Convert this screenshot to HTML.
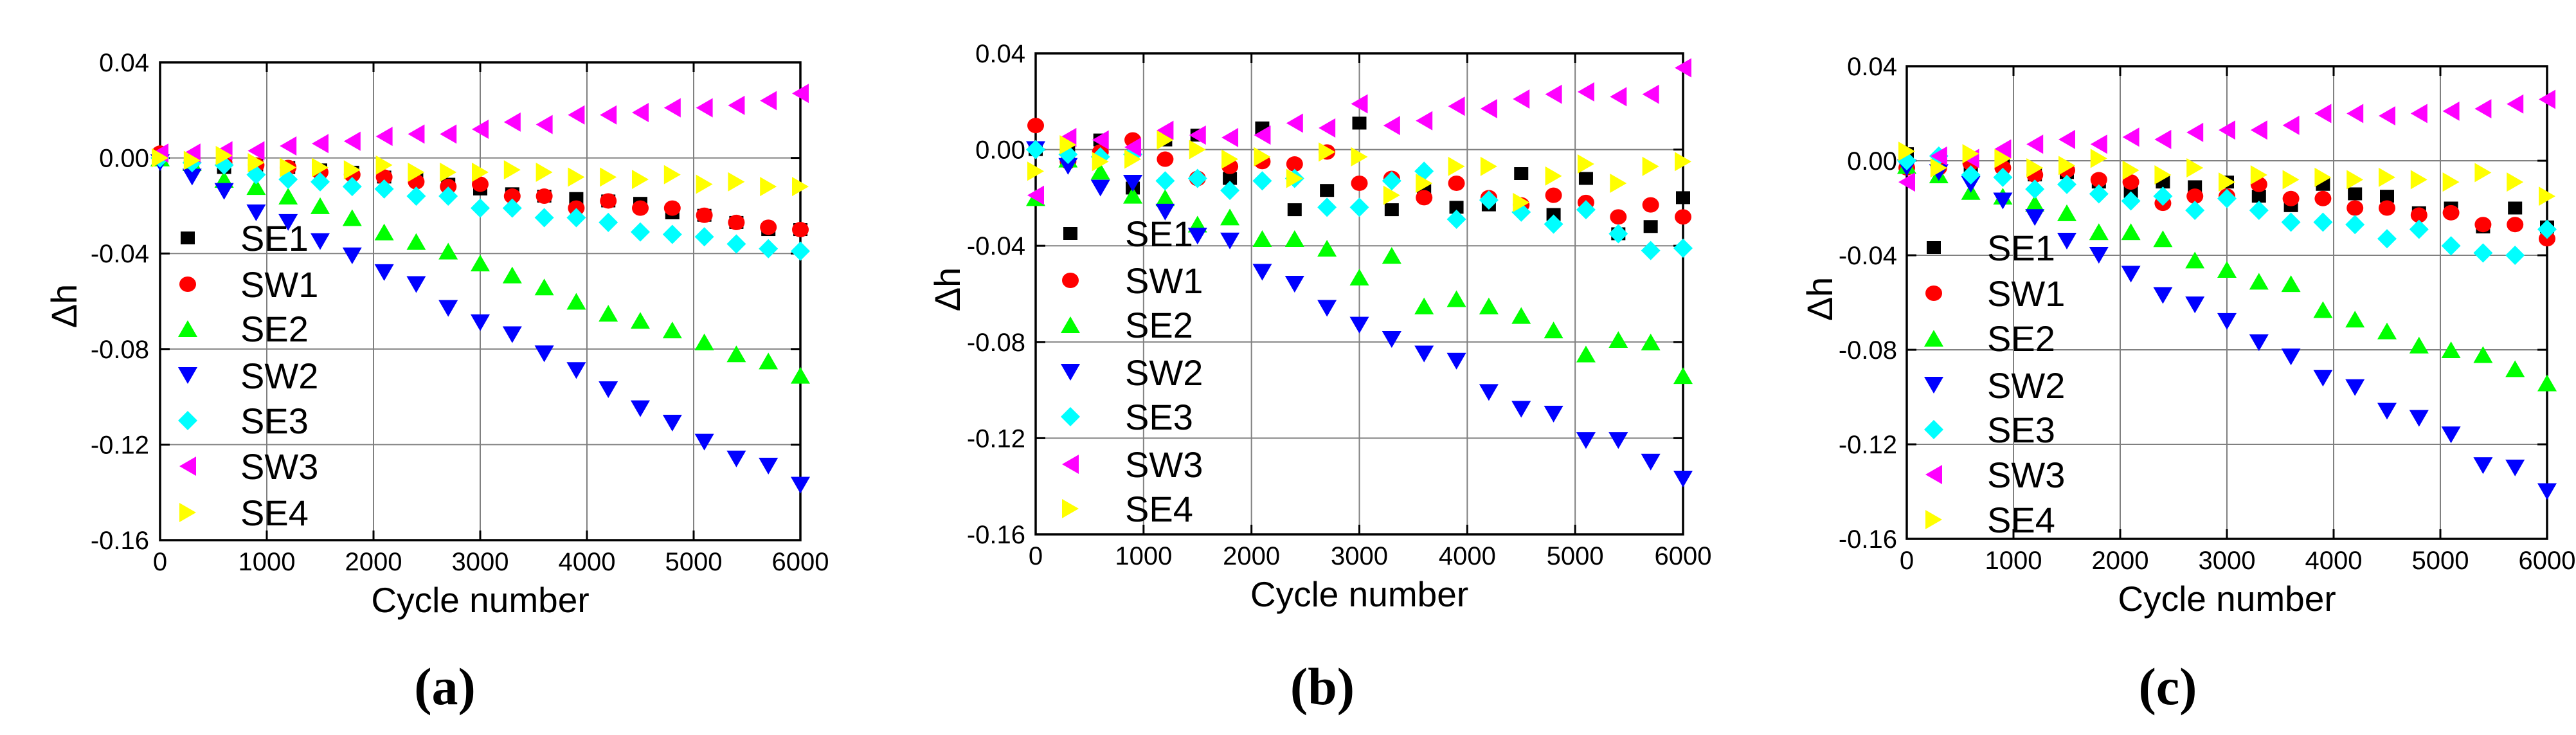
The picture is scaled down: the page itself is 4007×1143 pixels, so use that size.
<!DOCTYPE html>
<html><head><meta charset="utf-8"><style>
html,body{margin:0;padding:0;background:#fff;}
svg{display:block;}
text{font-family:"Liberation Sans",sans-serif;fill:#000;}
</style></head><body>
<svg id="fig" width="4007" height="1143" viewBox="0 0 4007 1143" xmlns="http://www.w3.org/2000/svg"></svg>
<script>
const xCycles=[0,300,600,900,1200,1500,1800,2100,2400,2700,3000,3300,3600,3900,4200,4500,4800,5100,5400,5700,6000];
const seriesNames=["SE1","SW1","SE2","SW2","SE3","SW3","SE4"];
const xTicks=[0,1000,2000,3000,4000,5000,6000];
const yTicks=[0.04,0.00,-0.04,-0.08,-0.12,-0.16];
const yTickLabels=["0.04","0.00","-0.04","-0.08","-0.12","-0.16"];
// panel (a)
const aSE1=[0,-0.001,-0.004,-0.003,-0.004,-0.005,-0.006,-0.008,-0.009,-0.011,-0.013,-0.015,-0.016,-0.017,-0.018,-0.019,-0.023,-0.024,-0.027,-0.030,-0.030];
const aSW1=[0.002,-0.001,-0.002,-0.003,-0.004,-0.006,-0.007,-0.008,-0.010,-0.012,-0.011,-0.016,-0.016,-0.021,-0.018,-0.021,-0.021,-0.024,-0.027,-0.029,-0.030];
const aSE2=[0,-0.002,-0.009,-0.012,-0.016,-0.020,-0.025,-0.031,-0.035,-0.039,-0.044,-0.049,-0.054,-0.060,-0.065,-0.068,-0.072,-0.077,-0.082,-0.085,-0.091];
const aSW2=[-0.002,-0.008,-0.014,-0.023,-0.027,-0.035,-0.041,-0.048,-0.053,-0.063,-0.069,-0.074,-0.082,-0.089,-0.097,-0.105,-0.111,-0.119,-0.126,-0.129,-0.137];
const aSE3=[0,-0.002,-0.003,-0.007,-0.009,-0.010,-0.012,-0.013,-0.016,-0.016,-0.021,-0.021,-0.025,-0.025,-0.027,-0.031,-0.032,-0.033,-0.036,-0.038,-0.039];
const aSW3=[0.002,0.002,0.003,0.003,0.005,0.006,0.007,0.009,0.010,0.010,0.012,0.015,0.014,0.018,0.018,0.019,0.021,0.021,0.022,0.024,0.027];
const aSE4=[0,-0.001,0.001,-0.002,-0.004,-0.004,-0.005,-0.003,-0.006,-0.006,-0.006,-0.005,-0.006,-0.008,-0.008,-0.009,-0.007,-0.011,-0.010,-0.012,-0.012];
// panel (b)
const bSE1=[0,0.000,0.004,-0.016,0.004,0.006,-0.012,0.009,-0.025,-0.017,0.011,-0.025,-0.017,-0.024,-0.023,-0.010,-0.027,-0.012,-0.035,-0.032,-0.020];
const bSW1=[0.010,-0.005,-0.001,0.004,-0.004,-0.012,-0.007,-0.005,-0.006,-0.001,-0.014,-0.012,-0.020,-0.014,-0.020,-0.023,-0.019,-0.022,-0.028,-0.023,-0.028];
const bSE2=[-0.020,-0.004,-0.009,-0.019,-0.020,-0.031,-0.028,-0.037,-0.037,-0.041,-0.053,-0.044,-0.065,-0.062,-0.065,-0.069,-0.075,-0.085,-0.079,-0.080,-0.094];
const bSW2=[0,-0.007,-0.016,-0.014,-0.026,-0.036,-0.038,-0.051,-0.056,-0.066,-0.073,-0.079,-0.085,-0.088,-0.101,-0.108,-0.110,-0.121,-0.121,-0.130,-0.137];
const bSE3=[0,-0.002,-0.003,-0.002,-0.013,-0.012,-0.017,-0.013,-0.012,-0.024,-0.024,-0.013,-0.009,-0.029,-0.021,-0.026,-0.031,-0.025,-0.035,-0.042,-0.041];
const bSW3=[-0.019,0.005,0.004,0.001,0.008,0.006,0.005,0.006,0.011,0.009,0.019,0.010,0.012,0.018,0.017,0.021,0.023,0.024,0.022,0.023,0.034];
const bSE4=[-0.009,0.002,-0.005,-0.004,0.004,0.000,-0.004,-0.003,-0.012,-0.001,-0.003,-0.019,-0.014,-0.007,-0.007,-0.022,-0.011,-0.006,-0.014,-0.007,-0.005];
// panel (c)
const cSE1=[0.003,-0.002,-0.002,-0.002,-0.006,-0.005,-0.009,-0.013,-0.009,-0.011,-0.009,-0.015,-0.019,-0.010,-0.014,-0.015,-0.022,-0.020,-0.028,-0.020,-0.028];
const cSW1=[-0.003,-0.003,-0.001,-0.003,-0.006,-0.004,-0.008,-0.009,-0.018,-0.015,-0.015,-0.010,-0.016,-0.016,-0.020,-0.020,-0.023,-0.022,-0.027,-0.027,-0.033];
const cSE2=[-0.002,-0.006,-0.013,-0.015,-0.018,-0.022,-0.030,-0.030,-0.033,-0.042,-0.046,-0.051,-0.052,-0.063,-0.067,-0.072,-0.078,-0.080,-0.082,-0.088,-0.094];
const cSW2=[-0.003,-0.005,-0.010,-0.017,-0.024,-0.034,-0.040,-0.048,-0.057,-0.061,-0.068,-0.077,-0.083,-0.092,-0.096,-0.106,-0.109,-0.116,-0.129,-0.130,-0.140];
const cSE3=[0,0.002,-0.006,-0.007,-0.012,-0.010,-0.014,-0.017,-0.015,-0.021,-0.016,-0.021,-0.026,-0.026,-0.027,-0.033,-0.029,-0.036,-0.039,-0.040,-0.029];
const cSW3=[-0.009,0.002,0.001,0.005,0.007,0.009,0.007,0.010,0.009,0.012,0.013,0.013,0.015,0.020,0.020,0.019,0.020,0.021,0.022,0.024,0.026];
const cSE4=[0.004,-0.003,0.003,0.001,-0.003,-0.002,0.001,-0.004,-0.006,-0.003,-0.009,-0.006,-0.008,-0.007,-0.008,-0.007,-0.008,-0.009,-0.005,-0.009,-0.015];

const colors=["#000000","#ff0000","#00ff00","#0000ff","#00ffff","#ff00ff","#ffff00"];
const shapes=["square","circle","up","down","diamond","left","right"];
const panels=[
 {id:"a",L:249,R:1245,T:97,B:840,ylx:232,dhx:99,dhy:476,mx:292,tx:374,rows:[370,442,511,584,654,725,797],xt:952,px:692,data:[aSE1,aSW1,aSE2,aSW2,aSE3,aSW3,aSE4]},
 {id:"b",L:1611,R:2618,T:83,B:831,ylx:1595,dhx:1473,dhy:450,mx:1665,tx:1750,rows:[363,436,505,579,648,722,791],xt:943,px:2057,data:[bSE1,bSW1,bSE2,bSW2,bSE3,bSW3,bSE4]},
 {id:"c",L:2966,R:3962,T:103,B:838,ylx:2951,dhx:2830,dhy:465,mx:3008,tx:3091,rows:[385,456,526,599,668,738,808],xt:950,px:3372,data:[cSE1,cSW1,cSE2,cSW2,cSE3,cSW3,cSE4]}
];
const NS="http://www.w3.org/2000/svg";
const svg=document.getElementById("fig");
function mk(tag,attrs,parent){const e=document.createElementNS(NS,tag);for(const k in attrs)e.setAttribute(k,attrs[k]);parent.appendChild(e);return e;}
function marker(shape,cx,cy,color,parent){
  const w=15,h=13;let e;
  if(shape==="square")e=mk("rect",{x:cx-11,y:cy-10,width:22,height:20,fill:color},parent);
  else if(shape==="circle")e=mk("ellipse",{cx:cx,cy:cy,rx:13,ry:12,fill:color},parent);
  else if(shape==="diamond")e=mk("polygon",{points:`${cx},${cy-15} ${cx+15},${cy} ${cx},${cy+15} ${cx-15},${cy}`,fill:color},parent);
  else if(shape==="up")e=mk("polygon",{points:`${cx},${cy-h} ${cx+w},${cy+h} ${cx-w},${cy+h}`,fill:color},parent);
  else if(shape==="down")e=mk("polygon",{points:`${cx-w},${cy-h} ${cx+w},${cy-h} ${cx},${cy+h}`,fill:color},parent);
  else if(shape==="left")e=mk("polygon",{points:`${cx-13},${cy} ${cx+13},${cy-15} ${cx+13},${cy+15}`,fill:color},parent);
  else e=mk("polygon",{points:`${cx+13},${cy} ${cx-13},${cy-15} ${cx-13},${cy+15}`,fill:color},parent);
  return e;
}
panels.forEach(p=>{
  const g=mk("g",{},svg);
  
  
  const xs=v=>p.L+(v-0)/6000*(p.R-p.L);
  const ys=v=>p.T+(0.04-v)/0.20*(p.B-p.T);
  // grid
  const grid=mk("g",{stroke:"#808080","stroke-width":2},g);
  
  
  xTicks.forEach(t=>{if(t>0&&t<6000)mk("line",{x1:xs(t),x2:xs(t),y1:p.T,y2:p.B},grid);});
  yTicks.forEach(t=>{if(t<0.04&&t>-0.16)mk("line",{x1:p.L,x2:p.R,y1:ys(t),y2:ys(t)},grid);});
  // ticks
  const tk=mk("g",{stroke:"#000","stroke-width":3},g);
  xTicks.forEach(t=>{mk("line",{x1:xs(t),x2:xs(t),y1:p.B,y2:p.B-15},tk);mk("line",{x1:xs(t),x2:xs(t),y1:p.T,y2:p.T+15},tk);});
  yTicks.forEach(t=>{mk("line",{x1:p.L,x2:p.L+15,y1:ys(t),y2:ys(t)},tk);mk("line",{x1:p.R,x2:p.R-15,y1:ys(t),y2:ys(t)},tk);});
  const fr=mk("rect",{x:p.L,y:p.T,width:p.R-p.L,height:p.B-p.T,fill:"none",stroke:"#000","stroke-width":3.5},g);
  
  
  // tick labels
  xTicks.forEach(t=>{const e=mk("text",{x:xs(t),y:p.B+47,"font-size":40,"text-anchor":"middle"},g);e.textContent=String(t);
    
    });
  yTicks.forEach((t,i)=>{const e=mk("text",{x:p.ylx,y:ys(t)+14,"font-size":40,"text-anchor":"end"},g);e.textContent=yTickLabels[i];
    
    });
  const xt=mk("text",{x:(p.L+p.R)/2,y:p.xt,"font-size":55,"text-anchor":"middle"},g);xt.textContent="Cycle number";
  
  
  const yt=mk("text",{x:0,y:0,"font-size":56,"text-anchor":"middle",transform:`translate(${p.dhx+20},${p.dhy}) rotate(-90)`},g);yt.textContent="Δh";
  
  
  const pl=mk("text",{x:p.px,y:1095,"font-size":82,"font-weight":"bold","text-anchor":"middle",style:"font-family:'Liberation Serif',serif"},g);pl.textContent="("+p.id+")";
  
  
  // series
  p.data.forEach((vals,si)=>{
    const sg=mk("g",{},g);
    
    
    vals.forEach((v,i)=>{const m=marker(shapes[si],xs(xCycles[i]),ys(v),colors[si],sg);
      
      });
  });
  // legend
  const lg=mk("g",{},g);
  
  
  seriesNames.forEach((n,si)=>{
    const m=marker(shapes[si],p.mx,p.rows[si],colors[si],lg);
    
    
    const t=mk("text",{x:p.tx,y:p.rows[si]+20,"font-size":56},lg);t.textContent=n;
    
    
  });
});
</script>
</body></html>
